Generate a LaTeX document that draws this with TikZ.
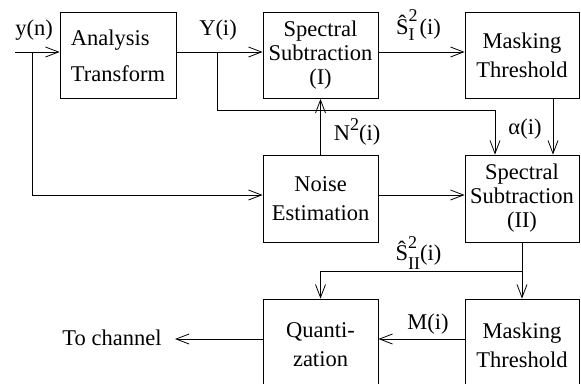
\documentclass[tikz,border=0pt]{standalone}
\usepackage{fontspec}
\setmainfont{Liberation Serif}
\usetikzlibrary{arrows.meta}
\newcommand{\scr}[1]{{\fontsize{18}{18}\selectfont #1}}
\begin{document}
\begin{tikzpicture}[x=1pt,y=-1pt, line width=0.8pt, line join=miter,
  >={Straight Barb[length=13pt,width=10pt,line width=0.8pt]},
  every node/.style={font=\fontsize{22.5}{27}\selectfont},
  box/.style={draw, minimum width=115pt, minimum height=86pt, inner sep=0pt, align=center},
  lbl/.style={inner sep=0pt, anchor=base}]
\useasboundingbox (0,0) rectangle (581,383);
\clip (0,0) rectangle (581,383);
% boxes
\node[box, minimum width=116pt, align=left, font=\fontsize{22.5}{36}\selectfont] (AT) at (118,55.5) {Analysis\\Transform};
\node[box, font=\fontsize{22.5}{24}\selectfont] (SS1) at (320.5,55.5) {Spectral\\Subtraction\\(I)};
\node[box, minimum width=114pt, font=\fontsize{22.5}{29}\selectfont] (MT1) at (522,55.5) {Masking\\Threshold};
\node[box, minimum height=87pt, font=\fontsize{22.5}{29}\selectfont] (NE) at (320.5,198.5) {Noise\\Estimation};
\node[box, minimum width=114pt, minimum height=87pt, font=\fontsize{22.5}{24}\selectfont] (SS2) at (522,198.5) {Spectral\\Subtraction\\(II)};
\node[box, minimum height=92pt, font=\fontsize{22.5}{29}\selectfont] (Q) at (320.5,345) {Quanti-\\zation};
\node[box, minimum width=114pt, minimum height=92pt, font=\fontsize{22.5}{29}\selectfont] (MT2) at (522,345) {Masking\\Threshold};
% helper coordinates
\coordinate (in) at (15,52);
\coordinate (b1) at (32,52);
\coordinate (b2) at (217,52);
\coordinate (c3) at (495,110);
\coordinate (r195) at (0,195);
\coordinate (x553) at (553,0);
\coordinate (b3) at (522,271);
\coordinate (r339) at (0,339);
\coordinate (out) at (175,339);
% connectors
\draw[->] (in) -- (AT.west |- in);
\draw[->] (b1) |- (NE.west |- r195);
\draw[->] (AT.east |- in) -- (SS1.west |- in);
\draw[->] (b2) |- (c3) -- (SS2.north -| c3);
\draw[->] (SS1.east |- in) -- (MT1.west |- in);
\draw[->] (MT1.south -| x553) -- (SS2.north -| x553);
\draw[->] (NE.north) -- (SS1.south);
\draw[->] (NE.east |- r195) -- (SS2.west |- r195);
\draw[->] (SS2.south) -- (MT2.north);
\draw[->] (b3) -| (Q.north);
\draw[->] (MT2.west |- r339) -- (Q.east |- r339);
\draw[->] (Q.west |- r339) -- (out);
% labels
\node[lbl] (lyn) at (34,35) {y(n)};
\node[lbl] (lYi) at (218,35) {Y(i)};
\node[lbl] (lS1) at (418.5,34) {Ŝ\rlap{\raisebox{-6pt}{\scr{I}}}\raisebox{13pt}{\scr{2}}\hspace{2pt}(i)};
\node[lbl] (lal) at (525,134) {α(i)};
\node[lbl] (lN) at (357,140) {N\raisebox{10pt}{\scr{2}}(i)};
\node[lbl] (lS2) at (418.5,260) {Ŝ\rlap{\raisebox{12pt}{\scr{2}}}\raisebox{-9pt}{\scr{II}}(i)};
\node[lbl] (lM) at (428,329) {M(i)};
\node[lbl] (lch) at (112,345) {To channel};
\end{tikzpicture}
\end{document}
